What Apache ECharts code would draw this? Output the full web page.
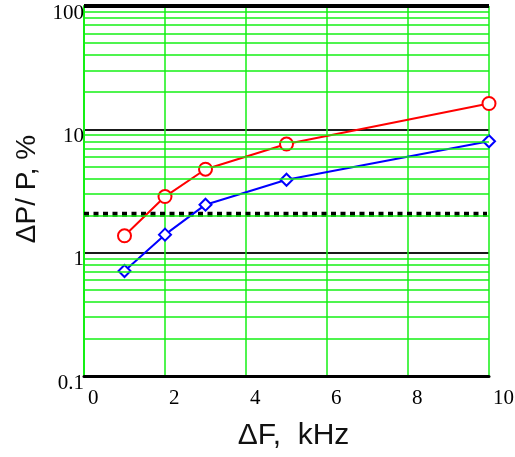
<!DOCTYPE html>
<html>
<head>
<meta charset="utf-8">
<script src="https://cdn.jsdelivr.net/npm/echarts@6/dist/echarts.min.js"></script>
<style>html,body{margin:0;padding:0;background:#fff}#c{width:515px;height:457px}</style>
</head>
<body>
<div id="c"></div>
<script>
// Data
const xValues = [1, 2, 3, 5, 10];
const redValues = [1.37, 2.85, 4.75, 7.6, 16.2];
const blueValues = [0.71, 1.4, 2.45, 3.9, 8.0];
const thresholdX = [0, 9.95];
const thresholdY = [2.05, 2.05];
const yTickLabels = ['0.1', '1', '10', '100'];
const xTickLabels = ['0', '2', '4', '6', '8', '10'];
const minorGridValues = [0.2,0.3,0.4,0.5,0.6,0.7,0.8,0.9,2,3,4,5,6,7,8,9,20,30,40,50,60,70,80,90];

const chart = echarts.init(document.getElementById('c'), null, {renderer: 'canvas'});
const pair = (xs, ys) => xs.map((x, i) => [x, ys[i]]);
const GREEN = '#14f014';

chart.setOption({
  animation: false,
  grid: {left: 84, right: 26, top: 6, bottom: 81, containLabel: false, outerBoundsMode: 'none'},
  xAxis: {
    type: 'value', min: 0, max: 10, interval: 2,
    name: 'ΔF,  kHz', nameLocation: 'middle', nameGap: 45,
    nameTextStyle: {fontFamily: 'Liberation Sans', fontSize: 30, color: '#111', padding: [0,0,0,14]},
    axisLine: {show: true, onZero: false, lineStyle: {color: '#000', width: 3}},
    axisTick: {show: false},
    axisLabel: {
      fontFamily: 'Liberation Serif', fontSize: 21, color: '#000', align: 'left',
      margin: 12,
      formatter: v => '{a|' + (xTickLabels[Math.round(v / 2)] ?? '') + '}',
      rich: {a: {fontFamily: 'Liberation Serif', fontSize: 21, color: '#000', padding: [0,0,0,4]}}
    },
    splitLine: {show: true, lineStyle: {color: GREEN, width: 1.5}}
  },
  yAxis: {
    type: 'log', logBase: 10, min: 0.1, max: 100,
    name: 'ΔP/ P, %', nameLocation: 'middle', nameGap: 40,
    nameTextStyle: {fontFamily: 'Liberation Sans', fontSize: 28, color: '#111', padding: [0,0,0,4]},
    axisLine: {show: true, lineStyle: {color: GREEN, width: 2}},
    axisTick: {show: false},
    axisLabel: {
      fontFamily: 'Liberation Serif', fontSize: 21, color: '#000', margin: 0,
      verticalAlign: 'middle',
      formatter: v => {
        const i = Math.round(Math.log10(v)) + 1;
        return '{a|' + (yTickLabels[i] ?? '') + '}';
      },
      rich: {a: {fontFamily: 'Liberation Serif', fontSize: 21, color: '#000', padding: [14,0,0,0]}}
    },
    splitLine: {show: true, lineStyle: {color: '#1a1a1a', width: 2}}
  },
  series: [
    {
      type: 'line', data: [], silent: true,
      markLine: {
        silent: true, symbol: ['none', 'none'], label: {show: false},
        lineStyle: {color: GREEN, width: 1.5, type: 'solid'},
        data: minorGridValues.map(v => ({yAxis: v}))
      }
    },
    {
      type: 'line', data: [], silent: true,
      markLine: {
        silent: true, symbol: ['none', 'none'], label: {show: false},
        lineStyle: {color: '#000', width: 4, type: 'solid'},
        data: [{yAxis: 100}]
      }
    },
    {
      name: 'threshold', type: 'line', data: pair(thresholdX, thresholdY),
      showSymbol: false, symbol: 'none',
      lineStyle: {color: '#000', width: 5, type: [5, 4.5]}, z: 3
    },
    {
      name: 'red', type: 'line', data: pair(xValues, redValues),
      symbol: 'emptyCircle', symbolSize: 13,
      lineStyle: {color: '#ff0000', width: 2},
      itemStyle: {color: '#ff0000', borderWidth: 2}, z: 4
    },
    {
      name: 'blue', type: 'line', data: pair(xValues, blueValues),
      symbol: 'emptyDiamond', symbolSize: 12,
      lineStyle: {color: '#0000ff', width: 2},
      itemStyle: {color: '#0000ff', borderWidth: 2}, z: 4
    }
  ]
});
</script>
</body>
</html>
